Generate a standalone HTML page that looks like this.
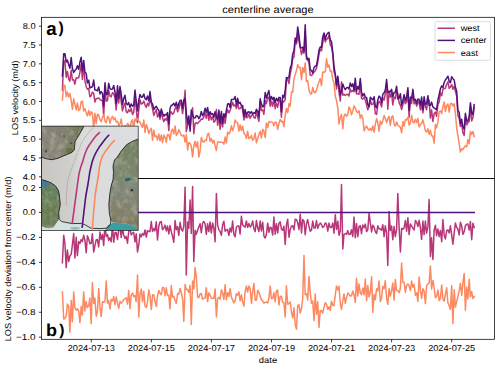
<!DOCTYPE html><html><head><meta charset="utf-8"><style>html,body{margin:0;padding:0;background:#fff;width:500px;height:368px;overflow:hidden}svg{display:block}text{font-family:"Liberation Sans",sans-serif;fill:#000;text-rendering:geometricPrecision}</style></head><body>
<svg width="500" height="368" viewBox="0 0 500 368">
<defs>
<clipPath id="ct"><rect x="41.5" y="17.3" width="453.0" height="161.1"/></clipPath>
<clipPath id="cb"><rect x="41.5" y="178.4" width="453.0" height="160.9"/></clipPath>
</defs>
<rect width="500" height="368" fill="#fff"/>
<g clip-path="url(#ct)" fill="none" stroke-width="1.50" stroke-linejoin="round" stroke-linecap="square">
<polyline stroke="#b73779" points="62.4,90.3 63.7,60.4 64.9,61.3 66.2,77.3 67.4,71.5 68.7,78.8 69.9,81.2 71.2,70.2 72.4,79.9 73.7,79.7 74.9,84.2 76.2,77.8 77.4,78.1 78.7,77.8 79.9,72.3 81.2,64.4 82.4,79.4 83.7,66.2 84.9,80.6 86.2,86.7 87.4,89.3 88.7,88.4 89.9,96.8 91.2,95.6 92.4,92.1 93.7,93.2 94.9,102.1 96.2,98.6 97.4,98.6 98.7,97.9 100.0,99.5 101.2,100.4 102.5,100.2 103.7,116.3 105.0,86.6 106.2,101.3 107.5,100.4 108.7,90.4 110.0,96.2 111.2,96.9 112.5,92.6 113.7,93.6 115.0,98.0 116.2,109.9 117.5,92.7 118.7,103.0 120.0,89.9 121.2,102.1 122.5,110.9 123.7,106.1 125.0,103.0 126.2,111.8 127.5,112.7 128.7,109.6 130.0,111.6 131.2,108.5 132.5,114.6 133.7,112.5 135.0,98.1 136.2,107.7 137.5,122.8 138.8,109.8 140.0,99.7 141.3,104.0 142.5,103.6 143.8,101.1 145.0,104.8 146.3,107.3 147.5,103.3 148.8,105.9 150.0,97.5 151.3,103.5 152.5,108.7 153.8,115.4 155.0,112.4 156.3,109.6 157.5,117.0 158.8,113.5 160.0,119.2 161.3,111.3 162.5,117.9 163.8,121.7 165.0,118.8 166.3,120.3 167.5,116.0 168.8,130.6 170.0,112.4 171.3,111.9 172.5,114.3 173.8,113.0 175.1,108.6 176.3,107.3 177.6,111.8 178.8,109.5 180.1,102.6 181.3,105.0 182.6,113.6 183.8,104.8 185.1,90.3 186.3,131.8 187.6,125.9 188.8,122.0 190.1,127.9 191.3,117.7 192.6,107.7 193.8,133.7 195.1,123.2 196.3,122.8 197.6,123.6 198.8,122.0 200.1,120.9 201.3,118.9 202.6,119.2 203.8,117.1 205.1,112.8 206.3,118.3 207.6,111.2 208.8,120.2 210.1,114.1 211.3,119.8 212.6,116.7 213.9,122.2 215.1,120.9 216.4,109.6 217.6,125.2 218.9,116.2 220.1,129.3 221.4,118.0 222.6,127.0 223.9,116.8 225.1,123.4 226.4,114.1 227.6,109.7 228.9,112.9 230.1,110.6 231.4,106.3 232.6,102.3 233.9,105.9 235.1,104.9 236.4,108.5 237.6,102.4 238.9,108.8 240.1,108.6 241.4,106.6 242.6,109.4 243.9,119.9 245.1,115.3 246.4,117.8 247.6,117.4 248.9,114.0 250.2,118.3 251.4,115.5 252.7,114.5 253.9,117.5 255.2,118.2 256.4,111.4 257.7,117.4 258.9,121.4 260.2,100.5 261.4,110.6 262.7,110.0 263.9,114.3 265.2,100.4 266.4,103.7 267.7,97.1 268.9,97.5 270.2,106.2 271.4,101.2 272.7,106.2 273.9,98.6 275.2,108.7 276.4,103.2 277.7,107.2 278.9,100.0 280.2,100.1 281.4,117.3 282.7,101.0 283.9,101.9 285.2,99.7 286.4,81.3 287.7,78.9 289.0,83.6 290.2,74.0 291.5,68.3 292.7,58.5 294.0,56.7 295.2,40.6 296.5,43.9 297.7,31.7 299.0,41.3 300.2,47.3 301.5,54.6 302.7,49.6 304.0,53.3 305.2,31.6 306.5,59.4 307.7,60.1 309.0,62.5 310.2,75.1 311.5,75.6 312.7,74.0 314.0,72.0 315.2,71.0 316.5,68.1 317.7,62.7 319.0,54.4 320.2,49.4 321.5,50.8 322.7,42.8 324.0,36.7 325.3,41.9 326.5,39.3 327.8,38.5 329.0,35.3 330.3,44.8 331.5,47.0 332.8,54.2 334.0,71.8 335.3,74.4 336.5,89.0 337.8,78.2 339.0,92.2 340.3,100.9 341.5,81.8 342.8,95.2 344.0,94.3 345.3,95.5 346.5,94.5 347.8,94.2 349.0,96.0 350.3,89.0 351.5,91.8 352.8,90.4 354.0,91.7 355.3,86.6 356.5,93.9 357.8,93.5 359.0,94.3 360.3,82.1 361.5,98.5 362.8,99.0 364.1,97.4 365.3,100.0 366.6,105.1 367.8,109.7 369.1,106.5 370.3,99.9 371.6,104.5 372.8,104.3 374.1,101.3 375.3,113.7 376.6,114.4 377.8,105.1 379.1,101.3 380.3,102.9 381.6,106.9 382.8,98.0 384.1,100.0 385.3,93.9 386.6,84.1 387.8,109.2 389.1,91.0 390.3,97.0 391.6,93.1 392.8,104.9 394.1,97.1 395.3,98.6 396.6,90.7 397.8,93.4 399.1,102.7 400.4,105.4 401.6,109.6 402.9,104.9 404.1,99.2 405.4,103.7 406.6,101.9 407.9,90.6 409.1,117.4 410.4,100.2 411.6,103.5 412.9,92.9 414.1,103.9 415.4,100.7 416.6,106.1 417.9,103.1 419.1,101.3 420.4,109.8 421.6,103.5 422.9,112.8 424.1,102.3 425.4,106.6 426.6,109.6 427.9,99.1 429.1,100.2 430.4,118.1 431.6,109.7 432.9,121.5 434.1,113.8 435.4,112.0 436.6,116.2 437.9,104.5 439.2,102.1 440.4,92.8 441.7,95.8 442.9,89.4 444.2,88.6 445.4,88.3 446.7,84.3 447.9,81.8 449.2,88.3 450.4,86.9 451.7,84.5 452.9,89.2 454.2,86.2 455.4,91.3 456.7,96.2 457.9,115.6 459.2,118.3 460.4,126.4 461.7,124.0 462.9,132.7 464.2,135.4 465.4,117.5 466.7,124.8 467.9,122.6 469.2,121.4 470.4,106.0 471.7,121.1 472.9,117.8 474.2,107.3"/>
<polyline stroke="#51127c" points="62.4,76.0 63.7,53.7 64.9,53.7 66.2,62.0 67.4,60.1 68.7,64.8 69.9,68.2 71.2,57.6 72.4,68.6 73.7,72.4 74.9,70.5 76.2,69.3 77.4,65.7 78.7,69.3 79.9,62.2 81.2,57.2 82.4,70.8 83.7,60.4 84.9,72.2 86.2,73.3 87.4,82.9 88.7,80.2 89.9,88.1 91.2,87.2 92.4,86.7 93.7,80.1 94.9,90.1 96.2,90.0 97.4,90.9 98.7,86.9 100.0,93.9 101.2,91.6 102.5,93.4 103.7,106.1 105.0,82.7 106.2,94.5 107.5,94.0 108.7,83.3 110.0,88.9 111.2,89.2 112.5,89.0 113.7,85.4 115.0,91.8 116.2,103.5 117.5,85.7 118.7,98.5 120.0,86.5 121.2,94.0 122.5,104.7 123.7,98.6 125.0,95.3 126.2,103.4 127.5,104.7 128.7,102.6 130.0,107.4 131.2,103.9 132.5,106.2 133.7,105.3 135.0,90.0 136.2,101.1 137.5,111.0 138.8,100.1 140.0,94.4 141.3,97.2 142.5,96.9 143.8,94.0 145.0,98.5 146.3,99.8 147.5,96.0 148.8,100.7 150.0,91.5 151.3,102.2 152.5,104.0 153.8,109.5 155.0,107.6 156.3,106.3 157.5,108.8 158.8,110.2 160.0,116.5 161.3,109.0 162.5,113.1 163.8,116.3 165.0,114.5 166.3,115.2 167.5,112.6 168.8,123.9 170.0,108.5 171.3,105.2 172.5,105.0 173.8,103.3 175.1,106.2 176.3,102.3 177.6,108.2 178.8,103.3 180.1,100.5 181.3,100.2 182.6,108.3 183.8,100.1 185.1,98.3 186.3,113.0 187.6,124.0 188.8,115.9 190.1,131.2 191.3,109.9 192.6,114.9 193.8,117.7 195.1,118.0 196.3,115.7 197.6,116.0 198.8,118.6 200.1,116.5 201.3,111.4 202.6,115.7 203.8,113.7 205.1,108.3 206.3,112.2 207.6,107.4 208.8,115.2 210.1,111.8 211.3,114.2 212.6,113.6 213.9,117.2 215.1,111.7 216.4,116.5 217.6,119.7 218.9,110.0 220.1,123.0 221.4,111.4 222.6,123.3 223.9,113.7 225.1,117.4 226.4,110.2 227.6,103.9 228.9,103.6 230.1,107.5 231.4,99.6 232.6,99.4 233.9,99.3 235.1,96.5 236.4,105.0 237.6,98.2 238.9,103.6 240.1,102.3 241.4,105.8 242.6,105.6 243.9,116.1 245.1,109.5 246.4,116.0 247.6,112.1 248.9,111.7 250.2,113.4 251.4,111.7 252.7,114.1 253.9,112.6 255.2,113.3 256.4,109.3 257.7,111.4 258.9,116.6 260.2,98.8 261.4,103.9 262.7,106.9 263.9,105.9 265.2,92.5 266.4,97.9 267.7,93.9 268.9,90.5 270.2,100.9 271.4,96.5 272.7,99.4 273.9,97.3 275.2,102.6 276.4,98.3 277.7,101.0 278.9,97.6 280.2,97.6 281.4,111.7 282.7,95.2 283.9,97.8 285.2,90.5 286.4,77.4 287.7,78.2 289.0,77.2 290.2,68.2 291.5,64.6 292.7,54.2 294.0,50.5 295.2,38.0 296.5,41.8 297.7,26.9 299.0,35.6 300.2,47.1 301.5,47.9 302.7,47.2 304.0,51.4 305.2,24.8 306.5,56.2 307.7,59.6 309.0,58.4 310.2,69.7 311.5,70.6 312.7,72.8 314.0,67.6 315.2,66.3 316.5,65.5 317.7,58.8 319.0,50.1 320.2,47.1 321.5,47.4 322.7,37.2 324.0,33.0 325.3,39.2 326.5,34.9 327.8,33.2 329.0,32.3 330.3,40.0 331.5,41.7 332.8,52.8 334.0,66.2 335.3,74.6 336.5,84.8 337.8,76.2 339.0,86.0 340.3,95.0 341.5,91.0 342.8,84.1 344.0,87.3 345.3,89.7 346.5,87.8 347.8,87.4 349.0,89.0 350.3,83.0 351.5,86.6 352.8,83.8 354.0,90.1 355.3,78.2 356.5,91.2 357.8,86.4 359.0,89.1 360.3,78.5 361.5,91.9 362.8,96.0 364.1,93.5 365.3,96.9 366.6,97.6 367.8,104.7 369.1,106.7 370.3,97.2 371.6,98.8 372.8,99.9 374.1,96.7 375.3,106.2 376.6,107.8 377.8,99.9 379.1,96.1 380.3,97.4 381.6,102.7 382.8,94.4 384.1,92.8 385.3,90.1 386.6,79.6 387.8,92.4 389.1,91.6 390.3,91.9 391.6,89.3 392.8,96.8 394.1,92.5 395.3,92.3 396.6,86.2 397.8,98.9 399.1,98.1 400.4,93.8 401.6,105.2 402.9,100.5 404.1,94.6 405.4,100.4 406.6,97.1 407.9,87.8 409.1,110.1 410.4,97.1 411.6,98.8 412.9,89.3 414.1,100.0 415.4,99.3 416.6,103.5 417.9,99.1 419.1,99.4 420.4,105.1 421.6,97.1 422.9,109.8 424.1,96.7 425.4,104.6 426.6,103.7 427.9,95.7 429.1,105.2 430.4,105.6 431.6,102.1 432.9,106.9 434.1,107.9 435.4,108.9 436.6,109.8 437.9,100.2 439.2,94.5 440.4,89.0 441.7,85.9 442.9,87.7 444.2,82.3 445.4,80.0 446.7,78.1 447.9,76.2 449.2,81.2 450.4,82.8 451.7,76.7 452.9,78.7 454.2,80.1 455.4,87.0 456.7,91.5 457.9,110.6 459.2,112.3 460.4,123.7 461.7,119.3 462.9,127.1 464.2,129.1 465.4,113.3 466.7,121.0 467.9,120.9 469.2,116.1 470.4,102.7 471.7,113.4 472.9,114.4 474.2,104.6"/>
<polyline stroke="#fc8961" points="62.4,100.0 63.7,85.0 64.9,85.6 66.2,96.6 67.4,91.9 68.7,96.9 69.9,93.4 71.2,100.5 72.4,109.4 73.7,98.8 74.9,103.9 76.2,109.9 77.4,103.1 78.7,110.4 79.9,109.3 81.2,101.6 82.4,101.1 83.7,110.9 84.9,108.7 86.2,112.8 87.4,115.9 88.7,110.5 89.9,115.5 91.2,111.6 92.4,113.2 93.7,128.9 94.9,113.2 96.2,123.5 97.4,114.2 98.7,114.9 100.0,119.9 101.2,121.6 102.5,117.3 103.7,114.5 105.0,121.4 106.2,122.6 107.5,116.3 108.7,117.8 110.0,123.2 111.2,118.8 112.5,116.3 113.7,119.7 115.0,117.8 116.2,122.1 117.5,121.3 118.7,125.4 120.0,123.9 121.2,118.9 122.5,127.4 123.7,127.0 125.0,125.6 126.2,128.1 127.5,123.5 128.7,124.5 130.0,130.7 131.2,121.7 132.5,119.7 133.7,128.5 135.0,118.8 136.2,121.1 137.5,118.6 138.8,120.9 140.0,122.2 141.3,125.2 142.5,127.3 143.8,120.0 145.0,132.4 146.3,124.5 147.5,128.0 148.8,133.7 150.0,130.5 151.3,128.2 152.5,140.3 153.8,129.9 155.0,136.7 156.3,135.9 157.5,140.0 158.8,134.0 160.0,140.8 161.3,134.9 162.5,142.7 163.8,135.0 165.0,137.3 166.3,142.2 167.5,134.4 168.8,134.6 170.0,139.9 171.3,131.3 172.5,129.1 173.8,133.9 175.1,125.9 176.3,135.4 177.6,133.8 178.8,129.6 180.1,132.3 181.3,135.6 182.6,135.9 183.8,135.0 185.1,142.1 186.3,134.7 187.6,150.0 188.8,142.4 190.1,143.5 191.3,145.8 192.6,157.0 193.8,146.4 195.1,141.3 196.3,147.1 197.6,141.7 198.8,157.0 200.1,150.8 201.3,137.6 202.6,141.3 203.8,142.2 205.1,140.1 206.3,140.7 207.6,134.2 208.8,133.4 210.1,141.3 211.3,138.5 212.6,143.0 213.9,140.2 215.1,145.6 216.4,150.5 217.6,142.1 218.9,141.9 220.1,142.2 221.4,142.1 222.6,142.6 223.9,144.1 225.1,137.1 226.4,143.0 227.6,132.1 228.9,134.0 230.1,132.2 231.4,125.7 232.6,130.8 233.9,127.2 235.1,119.9 236.4,122.3 237.6,122.9 238.9,131.2 240.1,124.8 241.4,130.6 242.6,126.0 243.9,133.5 245.1,134.4 246.4,138.6 247.6,131.2 248.9,138.7 250.2,137.6 251.4,135.5 252.7,140.3 253.9,138.8 255.2,133.0 256.4,142.9 257.7,138.5 258.9,134.3 260.2,131.3 261.4,138.0 262.7,129.2 263.9,131.2 265.2,137.6 266.4,123.0 267.7,127.5 268.9,121.6 270.2,122.1 271.4,122.1 272.7,122.5 273.9,125.8 275.2,122.0 276.4,122.4 277.7,129.4 278.9,123.8 280.2,119.4 281.4,121.7 282.7,121.3 283.9,126.7 285.2,115.5 286.4,108.6 287.7,112.5 289.0,103.6 290.2,106.3 291.5,92.0 292.7,92.3 294.0,78.6 295.2,74.6 296.5,70.4 297.7,64.5 299.0,67.6 300.2,67.2 301.5,79.8 302.7,67.6 304.0,72.5 305.2,62.9 306.5,81.6 307.7,80.7 309.0,90.1 310.2,93.5 311.5,94.1 312.7,87.5 314.0,92.3 315.2,92.7 316.5,90.5 317.7,85.2 319.0,82.0 320.2,78.6 321.5,85.8 322.7,71.9 324.0,72.3 325.3,71.6 326.5,58.7 327.8,67.2 329.0,65.0 330.3,71.6 331.5,70.8 332.8,79.7 334.0,82.7 335.3,96.2 336.5,100.6 337.8,108.0 339.0,124.0 340.3,117.4 341.5,114.4 342.8,128.7 344.0,116.1 345.3,114.0 346.5,116.4 347.8,114.5 349.0,106.9 350.3,109.4 351.5,114.7 352.8,110.9 354.0,105.9 355.3,108.3 356.5,111.6 357.8,112.6 359.0,110.7 360.3,118.3 361.5,114.7 362.8,118.2 364.1,131.0 365.3,127.8 366.6,126.0 367.8,128.9 369.1,130.1 370.3,128.3 371.6,130.7 372.8,125.9 374.1,132.2 375.3,124.4 376.6,118.8 377.8,122.8 379.1,131.2 380.3,120.9 381.6,124.3 382.8,120.9 384.1,115.4 385.3,118.2 386.6,122.5 387.8,118.7 389.1,116.3 390.3,125.4 391.6,117.1 392.8,115.8 394.1,124.1 395.3,126.2 396.6,121.9 397.8,124.9 399.1,126.3 400.4,127.2 401.6,132.8 402.9,121.5 404.1,126.0 405.4,119.4 406.6,120.0 407.9,117.2 409.1,125.1 410.4,123.2 411.6,115.2 412.9,122.1 414.1,122.9 415.4,119.2 416.6,122.5 417.9,118.3 419.1,127.0 420.4,124.6 421.6,123.4 422.9,119.7 424.1,124.9 425.4,130.8 426.6,132.0 427.9,128.7 429.1,134.4 430.4,130.3 431.6,135.7 432.9,136.3 434.1,143.2 435.4,124.5 436.6,127.9 437.9,122.2 439.2,111.6 440.4,110.8 441.7,113.7 442.9,106.9 444.2,101.9 445.4,111.5 446.7,105.4 447.9,104.1 449.2,112.1 450.4,103.9 451.7,103.3 452.9,106.0 454.2,103.9 455.4,113.3 456.7,128.5 457.9,135.4 459.2,143.7 460.4,152.1 461.7,148.7 462.9,149.7 464.2,147.3 465.4,145.8 466.7,146.9 467.9,139.4 469.2,143.8 470.4,131.4 471.7,134.5 472.9,131.5 474.2,136.6"/>
</g>
<g clip-path="url(#cb)" fill="none" stroke-width="1.50" stroke-linejoin="round" stroke-linecap="square">
<polyline stroke="#b73779" points="62.4,262.8 63.7,235.2 64.9,243.3 66.2,267.6 67.4,250.0 68.7,261.5 69.9,256.0 71.2,254.4 72.4,244.6 73.7,233.5 74.9,258.0 76.2,237.3 77.4,255.6 78.7,241.6 79.9,243.5 81.2,239.5 82.4,241.6 83.7,235.2 84.9,240.1 86.2,252.7 87.4,235.8 88.7,239.3 89.9,243.8 91.2,243.4 92.4,233.7 93.7,252.0 94.9,245.7 96.2,239.8 97.4,239.6 98.7,246.8 100.0,232.0 101.2,239.5 102.5,234.4 103.7,245.6 105.0,223.8 106.2,236.5 107.5,234.7 108.7,240.5 110.0,237.8 111.2,241.8 112.5,224.8 113.7,242.3 115.0,232.6 116.2,232.6 117.5,239.5 118.7,229.7 120.0,226.4 121.2,237.4 122.5,228.4 123.7,234.9 125.0,238.6 126.2,236.4 127.5,243.2 128.7,231.6 130.0,227.9 131.2,234.9 132.5,233.1 133.7,232.3 135.0,242.0 136.2,233.9 137.5,252.0 138.8,244.5 140.0,234.1 141.3,236.8 142.5,233.4 143.8,235.3 145.0,230.0 146.3,237.1 147.5,230.5 148.8,231.6 150.0,231.6 151.3,221.6 152.5,231.5 153.8,228.5 155.0,230.9 156.3,221.7 157.5,239.9 158.8,226.3 160.0,222.0 161.3,221.6 162.5,229.7 163.8,228.3 165.0,225.1 166.3,230.9 167.5,226.0 168.8,234.0 170.0,225.6 171.3,231.9 172.5,236.1 173.8,242.3 175.1,220.6 176.3,229.7 177.6,226.6 178.8,235.5 180.1,222.3 181.3,229.2 182.6,231.1 183.8,226.0 185.1,187.2 186.3,275.0 187.6,221.9 188.8,228.3 190.1,200.0 191.3,233.5 192.6,186.4 193.8,261.5 195.1,230.3 196.3,234.2 197.6,230.3 198.8,227.1 200.1,223.8 201.3,232.7 202.6,223.0 203.8,221.6 205.1,223.9 206.3,234.3 207.6,223.8 208.8,231.6 210.1,221.9 211.3,232.9 212.6,223.0 213.9,228.5 215.1,241.7 216.4,193.5 217.6,225.1 218.9,229.9 220.1,231.4 221.4,235.2 222.6,224.8 223.9,221.3 225.1,231.2 226.4,229.9 227.6,229.6 228.9,235.5 230.1,227.9 231.4,232.1 232.6,221.0 233.9,234.5 235.1,236.8 236.4,227.0 237.6,226.1 238.9,225.9 240.1,233.9 241.4,216.2 242.6,224.8 243.9,226.4 245.1,227.2 246.4,221.0 247.6,227.4 248.9,223.5 250.2,227.0 251.4,225.4 252.7,220.9 253.9,228.8 255.2,231.6 256.4,220.6 257.7,227.9 258.9,231.5 260.2,221.1 261.4,230.9 262.7,222.2 263.9,235.8 265.2,238.0 266.4,234.3 267.7,223.2 268.9,232.2 270.2,227.2 271.4,227.8 272.7,235.0 273.9,217.0 275.2,234.2 276.4,223.7 277.7,232.9 278.9,223.4 280.2,221.8 281.4,228.9 282.7,230.2 283.9,226.3 285.2,244.5 286.4,225.1 287.7,219.2 289.0,237.3 290.2,229.7 291.5,226.1 292.7,225.7 294.0,229.8 295.2,219.2 296.5,219.6 297.7,222.7 299.0,229.5 300.2,214.2 301.5,233.0 302.7,219.4 304.0,220.9 305.2,234.7 306.5,223.6 307.7,219.6 309.0,226.5 310.2,231.3 311.5,230.1 312.7,221.0 314.0,228.1 315.2,228.0 316.5,220.6 317.7,228.5 319.0,224.9 320.2,223.1 321.5,224.5 322.7,227.5 324.0,226.5 325.3,222.9 326.5,224.1 327.8,231.2 329.0,223.1 330.3,227.6 331.5,227.4 332.8,223.0 334.0,233.2 335.3,214.7 336.5,229.5 337.8,221.3 339.0,235.2 340.3,231.1 341.5,184.5 342.8,249.0 344.0,234.5 345.3,233.5 346.5,234.4 347.8,230.6 349.0,234.5 350.3,234.2 351.5,229.8 352.8,236.5 354.0,217.1 355.3,237.8 356.5,223.6 357.8,236.7 359.0,226.6 360.3,225.6 361.5,233.7 362.8,225.0 364.1,227.7 365.3,224.1 366.6,231.6 367.8,229.9 369.1,213.0 370.3,222.9 371.6,231.9 372.8,225.2 374.1,227.2 375.3,231.6 376.6,233.7 377.8,225.8 379.1,228.9 380.3,229.1 381.6,230.2 382.8,224.7 384.1,236.6 385.3,225.8 386.6,233.0 387.8,265.5 389.1,211.5 390.3,230.6 391.6,226.0 392.8,239.8 394.1,226.5 395.3,236.6 396.6,229.8 397.8,193.5 399.1,227.4 400.4,252.0 401.6,228.4 402.9,229.3 404.1,227.9 405.4,220.4 406.6,231.2 407.9,217.7 409.1,234.6 410.4,224.0 411.6,225.8 412.9,228.2 414.1,230.0 415.4,220.5 416.6,222.1 417.9,226.5 419.1,220.3 420.4,227.9 421.6,239.5 422.9,221.1 424.1,234.7 425.4,221.0 426.6,233.2 427.9,226.9 429.1,199.5 430.4,256.5 431.6,237.7 432.9,259.5 434.1,230.5 435.4,225.3 436.6,235.7 437.9,229.0 439.2,236.5 440.4,230.4 441.7,241.7 442.9,219.5 444.2,235.5 445.4,238.9 446.7,230.4 447.9,229.9 449.2,233.0 450.4,225.8 451.7,235.2 452.9,244.2 454.2,232.8 455.4,222.9 456.7,227.6 457.9,229.0 459.2,234.9 460.4,222.2 461.7,226.1 462.9,234.3 464.2,231.7 465.4,225.6 466.7,224.3 467.9,224.1 469.2,230.1 470.4,221.5 471.7,239.8 472.9,223.3 474.2,227.6"/>
<line stroke="#51127c" x1="62.4" y1="212.45" x2="474.2" y2="212.45"/>
<polyline stroke="#fc8961" points="62.4,292.0 63.7,319.0 64.9,318.6 66.2,316.1 67.4,304.0 68.7,306.4 69.9,332.2 71.2,300.6 72.4,321.8 73.7,292.0 74.9,307.9 76.2,310.2 77.4,308.7 78.7,311.0 79.9,322.6 81.2,306.6 82.4,315.1 83.7,291.9 84.9,311.0 86.2,301.6 87.4,307.6 88.7,305.7 89.9,298.1 91.2,323.8 92.4,282.5 93.7,303.5 94.9,298.0 96.2,316.3 97.4,312.0 98.7,288.6 100.0,306.9 101.2,316.6 102.5,301.8 103.7,302.3 105.0,301.1 106.2,281.0 107.5,303.1 108.7,300.6 110.0,309.0 111.2,299.2 112.5,301.1 113.7,296.4 115.0,304.7 116.2,297.0 117.5,302.9 118.7,308.4 120.0,301.3 121.2,303.2 122.5,301.6 123.7,299.7 125.0,298.8 126.2,297.7 127.5,304.1 128.7,290.5 130.0,308.6 131.2,295.3 132.5,293.1 133.7,296.5 135.0,295.5 136.2,301.5 137.5,275.0 138.8,317.0 140.0,293.7 141.3,289.1 142.5,301.8 143.8,291.2 145.0,306.0 146.3,307.5 147.5,301.8 148.8,289.8 150.0,296.5 151.3,309.6 152.5,294.7 153.8,295.0 155.0,301.1 156.3,306.5 157.5,295.8 158.8,290.4 160.0,293.3 161.3,294.9 162.5,287.4 163.8,287.7 165.0,295.7 166.3,287.8 167.5,295.6 168.8,295.1 170.0,308.9 171.3,285.6 172.5,297.3 173.8,296.2 175.1,300.5 176.3,303.5 177.6,293.6 178.8,294.2 180.1,288.5 181.3,293.0 182.6,298.8 183.8,321.5 185.1,284.6 186.3,289.2 187.6,289.8 188.8,292.4 190.1,285.4 191.3,324.5 192.6,280.9 193.8,288.8 195.1,267.5 196.3,276.8 197.6,297.0 198.8,297.6 200.1,294.0 201.3,293.5 202.6,299.2 203.8,298.3 205.1,298.0 206.3,287.7 207.6,301.6 208.8,292.8 210.1,295.2 211.3,298.3 212.6,298.2 213.9,298.3 215.1,289.1 216.4,317.0 217.6,298.5 218.9,297.4 220.1,299.2 221.4,289.8 222.6,293.2 223.9,299.5 225.1,284.7 226.4,299.7 227.6,292.8 228.9,296.3 230.1,288.7 231.4,297.1 232.6,299.9 233.9,302.9 235.1,301.0 236.4,293.7 237.6,295.2 238.9,291.9 240.1,300.9 241.4,294.8 242.6,301.6 243.9,306.1 245.1,292.0 246.4,286.0 247.6,292.0 248.9,286.1 250.2,288.9 251.4,303.3 252.7,291.6 253.9,283.4 255.2,300.2 256.4,300.2 257.7,290.2 258.9,292.6 260.2,296.3 261.4,299.9 262.7,300.7 263.9,303.2 265.2,302.3 266.4,302.1 267.7,303.0 268.9,298.1 270.2,286.1 271.4,298.8 272.7,298.2 273.9,292.8 275.2,301.7 276.4,291.1 277.7,290.0 278.9,305.1 280.2,296.4 281.4,296.2 282.7,302.4 283.9,302.6 285.2,317.0 286.4,285.7 287.7,304.2 289.0,303.6 290.2,301.9 291.5,312.1 292.7,317.8 294.0,307.8 295.2,324.5 296.5,329.2 297.7,305.8 299.0,304.5 300.2,313.1 301.5,308.5 302.7,298.6 304.0,255.5 305.2,294.8 306.5,293.7 307.7,300.1 309.0,276.5 310.2,292.6 311.5,303.5 312.7,301.0 314.0,320.8 315.2,293.9 316.5,314.3 317.7,301.7 319.0,327.5 320.2,310.7 321.5,310.6 322.7,313.1 324.0,307.3 325.3,302.8 326.5,304.2 327.8,309.4 329.0,306.7 330.3,310.3 331.5,301.2 332.8,305.5 334.0,305.4 335.3,294.7 336.5,286.1 337.8,289.9 339.0,286.2 340.3,303.4 341.5,309.5 342.8,300.9 344.0,294.0 345.3,303.3 346.5,297.9 347.8,293.1 349.0,294.5 350.3,296.1 351.5,295.7 352.8,291.0 354.0,294.6 355.3,302.5 356.5,278.3 357.8,296.0 359.0,284.0 360.3,293.0 361.5,294.6 362.8,287.9 364.1,294.8 365.3,279.0 366.6,300.8 367.8,285.5 369.1,297.0 370.3,292.4 371.6,276.8 372.8,312.5 374.1,294.4 375.3,299.7 376.6,288.7 377.8,290.9 379.1,281.0 380.3,301.6 381.6,297.8 382.8,286.4 384.1,288.6 385.3,280.7 386.6,298.7 387.8,304.4 389.1,288.6 390.3,296.1 391.6,290.6 392.8,283.0 394.1,300.1 395.3,279.6 396.6,290.5 397.8,290.7 399.1,292.7 400.4,288.0 401.6,263.0 402.9,282.5 404.1,282.4 405.4,292.3 406.6,285.4 407.9,283.9 409.1,285.7 410.4,290.6 411.6,281.1 412.9,287.3 414.1,284.2 415.4,295.4 416.6,292.7 417.9,301.5 419.1,276.9 420.4,289.8 421.6,298.2 422.9,288.7 424.1,291.1 425.4,303.6 426.6,285.7 427.9,283.9 429.1,283.4 430.4,266.0 431.6,288.9 432.9,280.5 434.1,287.9 435.4,297.8 436.6,296.4 437.9,289.9 439.2,300.7 440.4,298.3 441.7,284.9 442.9,299.3 444.2,301.2 445.4,294.4 446.7,287.7 447.9,302.8 449.2,305.7 450.4,309.3 451.7,285.8 452.9,323.4 454.2,289.7 455.4,307.1 456.7,301.5 457.9,296.5 459.2,290.7 460.4,283.3 461.7,295.5 462.9,282.5 464.2,273.5 465.4,310.2 466.7,287.1 467.9,299.0 469.2,279.3 470.4,296.8 471.7,291.6 472.9,298.6 474.2,296.6"/>
</g>
<g fill="none" stroke="#000" stroke-width="0.75">
<rect x="41.5" y="17.3" width="453.0" height="161.1"/>
<rect x="41.5" y="178.4" width="453.0" height="160.9"/>
<line x1="38.9" y1="176.80" x2="41.5" y2="176.80"/>
<line x1="38.9" y1="157.97" x2="41.5" y2="157.97"/>
<line x1="38.9" y1="139.15" x2="41.5" y2="139.15"/>
<line x1="38.9" y1="120.33" x2="41.5" y2="120.33"/>
<line x1="38.9" y1="101.50" x2="41.5" y2="101.50"/>
<line x1="38.9" y1="82.67" x2="41.5" y2="82.67"/>
<line x1="38.9" y1="63.85" x2="41.5" y2="63.85"/>
<line x1="38.9" y1="45.02" x2="41.5" y2="45.02"/>
<line x1="38.9" y1="26.20" x2="41.5" y2="26.20"/>
<line x1="38.9" y1="337.20" x2="41.5" y2="337.20"/>
<line x1="38.9" y1="312.25" x2="41.5" y2="312.25"/>
<line x1="38.9" y1="287.30" x2="41.5" y2="287.30"/>
<line x1="38.9" y1="262.35" x2="41.5" y2="262.35"/>
<line x1="38.9" y1="237.40" x2="41.5" y2="237.40"/>
<line x1="38.9" y1="212.45" x2="41.5" y2="212.45"/>
<line x1="38.9" y1="187.50" x2="41.5" y2="187.50"/>
<line x1="91.30" y1="339.3" x2="91.30" y2="342.40000000000003"/>
<line x1="151.36" y1="339.3" x2="151.36" y2="342.40000000000003"/>
<line x1="211.42" y1="339.3" x2="211.42" y2="342.40000000000003"/>
<line x1="271.48" y1="339.3" x2="271.48" y2="342.40000000000003"/>
<line x1="331.54" y1="339.3" x2="331.54" y2="342.40000000000003"/>
<line x1="391.60" y1="339.3" x2="391.60" y2="342.40000000000003"/>
<line x1="451.66" y1="339.3" x2="451.66" y2="342.40000000000003"/>
</g>
<text x="35.60" y="179.80" font-size="8.59" text-anchor="end" textLength="12.88" lengthAdjust="spacingAndGlyphs">4.0</text>
<text x="35.60" y="160.97" font-size="8.59" text-anchor="end" textLength="12.88" lengthAdjust="spacingAndGlyphs">4.5</text>
<text x="35.60" y="142.15" font-size="8.59" text-anchor="end" textLength="12.88" lengthAdjust="spacingAndGlyphs">5.0</text>
<text x="35.60" y="123.33" font-size="8.59" text-anchor="end" textLength="12.88" lengthAdjust="spacingAndGlyphs">5.5</text>
<text x="35.60" y="104.50" font-size="8.59" text-anchor="end" textLength="12.88" lengthAdjust="spacingAndGlyphs">6.0</text>
<text x="35.60" y="85.67" font-size="8.59" text-anchor="end" textLength="12.88" lengthAdjust="spacingAndGlyphs">6.5</text>
<text x="35.60" y="66.85" font-size="8.59" text-anchor="end" textLength="12.88" lengthAdjust="spacingAndGlyphs">7.0</text>
<text x="35.60" y="48.02" font-size="8.59" text-anchor="end" textLength="12.88" lengthAdjust="spacingAndGlyphs">7.5</text>
<text x="35.60" y="29.20" font-size="8.59" text-anchor="end" textLength="12.88" lengthAdjust="spacingAndGlyphs">8.0</text>
<text x="35.60" y="340.20" font-size="8.59" text-anchor="end" textLength="19.67" lengthAdjust="spacingAndGlyphs">−1.0</text>
<text x="35.60" y="315.25" font-size="8.59" text-anchor="end" textLength="19.67" lengthAdjust="spacingAndGlyphs">−0.8</text>
<text x="35.60" y="290.30" font-size="8.59" text-anchor="end" textLength="19.67" lengthAdjust="spacingAndGlyphs">−0.6</text>
<text x="35.60" y="265.35" font-size="8.59" text-anchor="end" textLength="19.67" lengthAdjust="spacingAndGlyphs">−0.4</text>
<text x="35.60" y="240.40" font-size="8.59" text-anchor="end" textLength="19.67" lengthAdjust="spacingAndGlyphs">−0.2</text>
<text x="35.60" y="215.45" font-size="8.59" text-anchor="end" textLength="12.88" lengthAdjust="spacingAndGlyphs">0.0</text>
<text x="35.60" y="190.50" font-size="8.59" text-anchor="end" textLength="12.88" lengthAdjust="spacingAndGlyphs">0.2</text>
<text x="91.30" y="351.10" font-size="8.59" text-anchor="middle" textLength="47.07" lengthAdjust="spacingAndGlyphs">2024-07-13</text>
<text x="151.36" y="351.10" font-size="8.59" text-anchor="middle" textLength="47.07" lengthAdjust="spacingAndGlyphs">2024-07-15</text>
<text x="211.42" y="351.10" font-size="8.59" text-anchor="middle" textLength="47.07" lengthAdjust="spacingAndGlyphs">2024-07-17</text>
<text x="271.48" y="351.10" font-size="8.59" text-anchor="middle" textLength="47.07" lengthAdjust="spacingAndGlyphs">2024-07-19</text>
<text x="331.54" y="351.10" font-size="8.59" text-anchor="middle" textLength="47.07" lengthAdjust="spacingAndGlyphs">2024-07-21</text>
<text x="391.60" y="351.10" font-size="8.59" text-anchor="middle" textLength="47.07" lengthAdjust="spacingAndGlyphs">2024-07-23</text>
<text x="451.66" y="351.10" font-size="8.59" text-anchor="middle" textLength="47.07" lengthAdjust="spacingAndGlyphs">2024-07-25</text>
<text x="268.00" y="362.80" font-size="8.59" text-anchor="middle" textLength="18.26" lengthAdjust="spacingAndGlyphs">date</text>
<text x="268.00" y="12.80" font-size="10.28" text-anchor="middle" textLength="91.51" lengthAdjust="spacingAndGlyphs">centerline average</text>
<text x="18.30" y="97.85" font-size="8.59" text-anchor="middle" textLength="74.63" lengthAdjust="spacingAndGlyphs" transform="rotate(-90 18.30 97.85)">LOS velocity (m/d)</text>
<text x="11.00" y="258.85" font-size="8.59" text-anchor="middle" textLength="164.91" lengthAdjust="spacingAndGlyphs" transform="rotate(-90 11.00 258.85)">LOS velocity deviation from center (m/d)</text>
<rect x="435.0" y="21.6" width="55.4" height="38.7" rx="1.6" fill="#fff" fill-opacity="0.8" stroke="#d2d2d2" stroke-width="0.75"/>
<line x1="437.6" y1="28.25" x2="455.0" y2="28.25" stroke="#b73779" stroke-width="1.5"/>
<text x="460.70" y="31.30" font-size="8.59" text-anchor="start" textLength="19.00" lengthAdjust="spacingAndGlyphs">west</text>
<line x1="437.6" y1="40.40" x2="455.0" y2="40.40" stroke="#51127c" stroke-width="1.5"/>
<text x="460.70" y="43.45" font-size="8.59" text-anchor="start" textLength="26.06" lengthAdjust="spacingAndGlyphs">center</text>
<line x1="437.6" y1="52.55" x2="455.0" y2="52.55" stroke="#fc8961" stroke-width="1.5"/>
<text x="460.70" y="55.60" font-size="8.59" text-anchor="start" textLength="17.34" lengthAdjust="spacingAndGlyphs">east</text>
<text x="46.2" y="34.9" font-size="18.8" font-weight="bold" textLength="10.4" lengthAdjust="spacingAndGlyphs">a</text>
<text x="58.5" y="33.4" font-size="15.8" font-weight="bold">)</text>
<text x="45.9" y="335.6" font-size="17.2" font-weight="bold" textLength="11.0" lengthAdjust="spacingAndGlyphs">b</text>
<text x="59.3" y="334.6" font-size="15.6" font-weight="bold">)</text>
<defs><clipPath id="ci"><rect x="41.5" y="126.1" width="96.7" height="104.3"/></clipPath>
<linearGradient id="gl" x1="0" y1="0" x2="1" y2="0"><stop offset="0" stop-color="#c8c6c2"/><stop offset="0.3" stop-color="#d0cfcc"/><stop offset="0.42" stop-color="#dadbdb"/><stop offset="1" stop-color="#dcdee0"/></linearGradient>
<linearGradient id="gtl" x1="0" y1="0" x2="1" y2="0"><stop offset="0" stop-color="#88847a"/><stop offset="0.5" stop-color="#848070"/><stop offset="0.75" stop-color="#777b5e"/><stop offset="1" stop-color="#6b744c"/></linearGradient>
<linearGradient id="gr" x1="0" y1="0" x2="0" y2="1"><stop offset="0" stop-color="#72805c"/><stop offset="0.3" stop-color="#788468"/><stop offset="0.6" stop-color="#808674"/><stop offset="0.85" stop-color="#837f68"/><stop offset="1" stop-color="#7f7452"/></linearGradient>
<linearGradient id="gll" x1="0" y1="0" x2="0" y2="1"><stop offset="0" stop-color="#4a7a9a"/><stop offset="0.15" stop-color="#5f7f5c"/><stop offset="0.5" stop-color="#647a4e"/><stop offset="1" stop-color="#6b7a50"/></linearGradient>
<filter id="tx" x="0" y="0" width="1" height="1"><feTurbulence type="fractalNoise" baseFrequency="0.16 0.12" numOctaves="3" seed="5"/><feColorMatrix type="matrix" values="0 0 0 0 0.70  0 0 0 0 0.66  0 0 0 0 0.58  2.2 0 0 0 -0.95"/></filter>
<filter id="tx2" x="0" y="0" width="1" height="1"><feTurbulence type="fractalNoise" baseFrequency="0.14 0.18" numOctaves="3" seed="11"/><feColorMatrix type="matrix" values="0 0 0 0 0.33  0 0 0 0 0.36  0 0 0 0 0.38  2.2 0 0 0 -1.05"/></filter>
<filter id="tx3" x="0" y="0" width="1" height="1"><feTurbulence type="fractalNoise" baseFrequency="0.3" numOctaves="2" seed="21"/><feColorMatrix type="matrix" values="0 0 0 0 0.80  0 0 0 0 0.81  0 0 0 0 0.80  0 0 0 0 0  3 0 0 0 -1.4"/></filter>
</defs>
<g clip-path="url(#ci)">
<rect x="41.5" y="126.1" width="96.69999999999999" height="104.30000000000001" fill="url(#gl)"/>
<polygon points="41.5,224.0 53.5,227.3 57.7,221.0 61.8,221.6 67.0,222.6 72.2,223.6 81.6,223.4 85.8,225.2 91.0,228.3 100.0,228.6 106.5,228.2 107.8,227.3 105.0,230.4 41.5,230.4" fill="#d3e2e1"/>
<polygon points="41.5,126.1 84.6,126.1 83.8,126.6 80.2,133.0 77.5,137.5 75.2,141.1 74.7,145.1 74.2,150.2 71.2,152.7 65.2,155.2 58.1,158.2 52.1,159.7 46.0,158.7 42.0,157.2 41.5,157.0" fill="url(#gtl)"/>
<polygon points="41.5,179.6 46.2,180.9 51.4,183.0 55.6,186.1 58.2,190.2 59.2,194.0 60.3,204.4 58.7,212.7 59.2,219.0 57.7,221.0 53.5,227.3 48.3,228.3 44.2,227.3 41.5,226.0" fill="url(#gll)"/>
<polygon points="138.2,139.0 131.7,141.7 126.5,144.8 121.3,151.0 117.1,157.3 114.5,160.0 113.0,166.2 113.5,172.5 113.0,179.8 111.4,185.0 110.4,190.2 109.8,194.0 108.8,204.4 109.3,212.7 110.9,221.0 113.0,222.6 119.2,223.1 125.4,223.6 131.7,225.2 136.9,227.3 138.2,228.0" fill="url(#gr)"/>
<polygon points="107.8,225.5 110.4,224.2 113.0,222.6 119.2,223.1 125.4,223.6 131.7,225.2 136.9,227.3 138.2,228.0 138.2,230.4 105.0,230.4" fill="#3a9ea3"/>
<clipPath id="cl"><polygon points="41.5,126.1 84.6,126.1 83.8,126.6 80.2,133.0 77.5,137.5 75.2,141.1 74.7,145.1 74.2,150.2 71.2,152.7 65.2,155.2 58.1,158.2 52.1,159.7 46.0,158.7 42.0,157.2 41.5,157.0"/><polygon points="41.5,179.6 46.2,180.9 51.4,183.0 55.6,186.1 58.2,190.2 59.2,194.0 60.3,204.4 58.7,212.7 59.2,219.0 57.7,221.0 53.5,227.3 48.3,228.3 44.2,227.3 41.5,226.0"/><polygon points="138.2,139.0 131.7,141.7 126.5,144.8 121.3,151.0 117.1,157.3 114.5,160.0 113.0,166.2 113.5,172.5 113.0,179.8 111.4,185.0 110.4,190.2 109.8,194.0 108.8,204.4 109.3,212.7 110.9,221.0 113.0,222.6 119.2,223.1 125.4,223.6 131.7,225.2 136.9,227.3 138.2,228.0"/></clipPath>
<g clip-path="url(#cl)"><rect x="41.5" y="126.1" width="96.69999999999999" height="104.30000000000001" filter="url(#tx)" opacity="0.45"/><rect x="41.5" y="126.1" width="96.69999999999999" height="104.30000000000001" filter="url(#tx2)" opacity="0.4"/></g>
<ellipse cx="127.8" cy="179.5" rx="3.2" ry="1.6" fill="#2f6466" transform="rotate(-20 127.8 179.5)"/>
<circle cx="131.8" cy="190.3" r="1.2" fill="#1c2f55"/>
<ellipse cx="44" cy="184" rx="2.8" ry="4" fill="#3f78a8" opacity="0.8"/>
<ellipse cx="64" cy="136" rx="1.2" ry="0.8" fill="#2f5a4a"/>
<ellipse cx="71" cy="143" rx="1.6" ry="0.8" fill="#3b4a5a"/>
<ellipse cx="69.5" cy="150.5" rx="3.5" ry="2.8" fill="#5f7038" opacity="0.8"/>
<path d="M47,132 L55,140 M50,129 L60,137 M45,141 L53,148 M56,131 L63,138" stroke="#5a6270" stroke-width="0.7" opacity="0.5"/>
<ellipse cx="46" cy="151" rx="0.8" ry="1.6" fill="#2e3d60"/>
<ellipse cx="75" cy="228.3" rx="5" ry="1.4" fill="#5aa7a8" opacity="0.6"/>
<polyline points="94.2,126.3 89.5,131.8 84.8,137.5 81.8,142.6 79.6,147.9 76.9,154.5 74.4,161.4 71.0,170.0 68.1,178.8 67.0,187.0 66.5,196.0 66.3,206.0" fill="none" stroke="#8f8c84" stroke-width="0.6" stroke-dasharray="1.4,0.7"/>
<polyline points="83.8,126.6 80.2,133.0 77.5,137.5 75.2,141.1 74.7,145.1 74.2,150.2 71.2,152.7 65.2,155.2 58.1,158.2 52.1,159.7 46.0,158.7 42.0,157.2 41.5,157.0" fill="none" stroke="#111" stroke-width="0.8"/>
<polyline points="41.5,179.6 46.2,180.9 51.4,183.0 55.6,186.1 58.2,190.2 59.2,194.0 60.3,204.4 58.7,212.7 59.2,219.0 61.8,221.6 67.0,222.6 72.2,223.6 81.6,223.4 85.8,225.2 91.0,228.3 100.0,228.6 106.5,228.2 107.8,227.3 110.4,224.2 110.9,221.0 109.3,212.7 108.8,204.4 109.8,194.0 110.4,190.2 111.4,185.0 113.0,179.8 113.5,172.5 113.0,166.2 114.5,160.0 117.1,157.3 121.3,151.0 126.5,144.8 131.7,141.7 138.2,139.0" fill="none" stroke="#111" stroke-width="0.8"/>
<g fill="none" stroke-width="1.6" stroke-linecap="butt" stroke-linejoin="round">
<polyline points="99.9,132.1 96.3,135.6 93.1,139.6 89.8,144.2 86.9,149.0 84.6,155.0 82.7,161.4 80.6,167.5 79.0,173.6 77.5,184.0 75.9,196.0 74.0,210.0 72.2,223.6" stroke="#b73779"/>
<polyline points="109.2,134.7 105.7,138.5 102.5,142.7 99.1,147.3 96.2,152.1 93.9,157.0 92.1,162.0 89.8,172.0 88.0,184.0 85.8,196.0 84.0,211.0 82.1,227.8" stroke="#51127c"/>
<polyline points="114.8,140.1 111.0,144.0 107.7,148.4 104.8,152.3 102.5,156.2 100.4,162.0 99.2,168.5 98.4,175.6 96.8,185.0 95.3,194.0 93.7,211.0 92.2,229.4" stroke="#fc8961"/>
</g>
</g>
<rect x="41.5" y="126.1" width="96.69999999999999" height="104.30000000000001" fill="none" stroke="#1a1a1a" stroke-width="0.7"/>
</svg></body></html>
